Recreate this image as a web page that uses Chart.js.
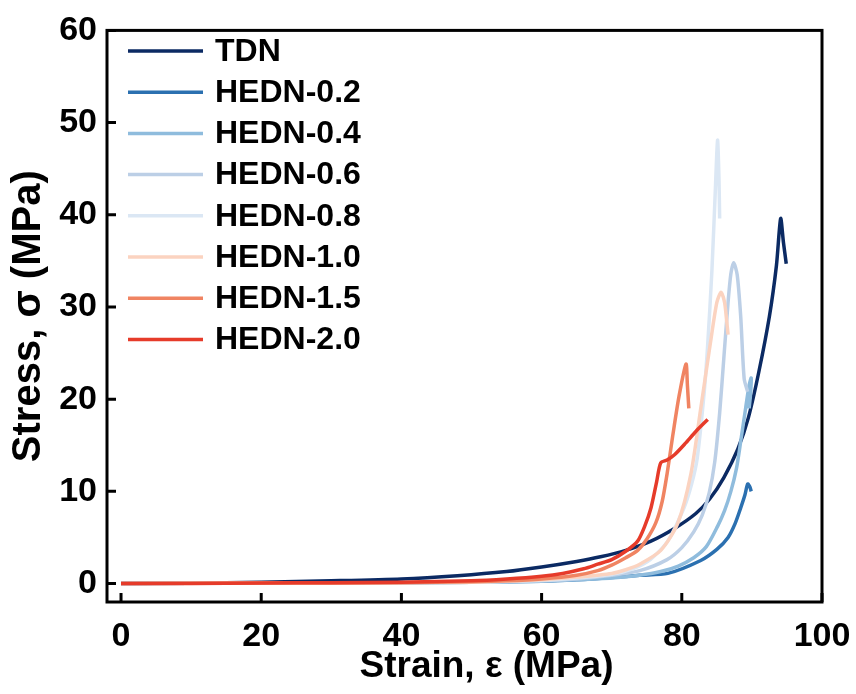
<!DOCTYPE html>
<html>
<head>
<meta charset="utf-8">
<script src="https://cdn.jsdelivr.net/npm/chart.js@4"></script>
<style>
  html, body { margin: 0; padding: 0; background: #fff; }
</style>
</head>
<body>
<canvas id="chart" width="856" height="694"></canvas>
<script>
// series names and colours
let names = ['TDN', 'HEDN-0.2', 'HEDN-0.4', 'HEDN-0.6', 'HEDN-0.8', 'HEDN-1.0', 'HEDN-1.5', 'HEDN-2.0'];
let colors = ['#0b2a63', '#2b70b0', '#8fbcdd', '#bccfe6', '#dbe7f4', '#fbd3c0', '#f08462', '#e63b2a'];

// values (strain, stress)
let tdnX = [0, 10, 20, 30, 40, 48, 55, 60, 65, 68.4, 72, 75.6, 79, 82, 84, 86, 88, 89.5, 91, 92.5, 93.5, 94.1, 94.5, 94.9];
let tdnY = [0, 0.05, 0.15, 0.3, 0.5, 0.85, 1.3, 1.8, 2.4, 2.9, 3.6, 4.6, 6.0, 7.6, 9.2, 11.5, 14.6, 18, 23, 29, 34.5, 39.6, 37, 34.7];

let h02X = [0, 20, 40, 50, 60, 65, 70, 74, 78, 82.7, 85, 86.6, 87.6, 88.4, 89, 89.4, 89.7, 89.9];
let h02Y = [0, 0.05, 0.1, 0.15, 0.25, 0.4, 0.65, 0.9, 1.1, 2.5, 3.7, 5, 6.5, 8.2, 9.6, 10.8, 10.5, 10];

let h04X = [0, 20, 40, 50, 60, 65, 70, 74, 77, 79.5, 81.7, 83.5, 85.1, 86.1, 87, 87.8, 88.4, 89.1, 89.6, 89.9, 89.8, 89.6];
let h04Y = [0, 0.05, 0.1, 0.15, 0.25, 0.4, 0.6, 0.9, 1.3, 1.9, 2.8, 4.0, 6.2, 7.9, 10, 12.5, 15.4, 19, 21.5, 22.3, 20.5, 19];

let h06X = [0, 20, 40, 50, 60, 65, 70, 74, 77.9, 80, 81.7, 82.9, 83.9, 84.7, 85.4, 86, 86.6, 87, 87.4, 87.9, 88.4, 88.9, 89.4];
let h06Y = [0, 0.05, 0.1, 0.15, 0.3, 0.5, 0.9, 1.4, 2.6, 3.9, 5.6, 7.4, 9.8, 13.2, 18.5, 24.5, 30.5, 33.6, 34.8, 33.5, 29, 22.2, 20.8];

let h08X = [0, 20, 40, 50, 60, 65, 70, 73, 75.5, 78, 80.3, 81.4, 82.2, 83.2, 83.7, 84.3, 84.8, 85.1, 85.3, 85.4];
let h08Y = [0, 0.05, 0.1, 0.15, 0.35, 0.6, 1.0, 1.6, 2.6, 4.6, 8.2, 10.8, 13.6, 20.8, 26, 34, 43, 48.1, 44, 39.6];

let h10X = [0, 20, 40, 50, 60, 65, 70, 72, 74, 77, 79.4, 81.3, 82.7, 84.1, 85, 85.6, 86.1, 86.4, 86.6];
let h10Y = [0, 0.05, 0.1, 0.15, 0.4, 0.7, 1.1, 1.5, 2.1, 3.6, 6.5, 11.9, 19, 26.2, 30.5, 31.6, 30.5, 28.5, 27];

let h15X = [0, 20, 40, 50, 55, 60, 65, 68, 70, 72, 73.7, 75, 76.3, 77.2, 77.9, 78.7, 79.6, 80.6, 80.8, 81];
let h15Y = [0, 0.05, 0.1, 0.2, 0.3, 0.5, 0.9, 1.4, 2.0, 2.8, 3.6, 4.8, 6.6, 8.9, 11.9, 16, 20.3, 23.8, 21.5, 19];

let h20X = [0, 10, 20, 30, 40, 50, 55, 60, 63, 66, 68, 70, 72, 73.7, 74.7, 75.6, 76.4, 77, 77.9, 79, 80.5, 82, 83.7];
let h20Y = [0, 0, 0.05, 0.1, 0.15, 0.3, 0.5, 0.8, 1.1, 1.6, 2.1, 2.6, 3.5, 4.6, 6.2, 8.2, 11, 13.1, 13.4, 14, 15.2, 16.5, 17.8];

let seriesX = [tdnX, h02X, h04X, h06X, h08X, h10X, h15X, h20X];
let seriesY = [tdnY, h02Y, h04Y, h06Y, h08Y, h10Y, h15Y, h20Y];

// axis ticks and titles
let xTicks = [0, 20, 40, 60, 80, 100];
let yTicks = [0, 10, 20, 30, 40, 50, 60];
let xTitle = 'Strain, ε (MPa)';
let yTitle = 'Stress, σ (MPa)';

let fontFamily = '"Liberation Sans", Arial, sans-serif';

let datasets = names.map((name, i) => ({
    label: name,
    data: seriesX[i].map((x, k) => ({ x: x, y: seriesY[i][k] })),
    borderColor: colors[i],
    backgroundColor: colors[i],
    borderWidth: 3.5,
    pointRadius: 0,
    showLine: true,
    tension: 0.25,
    order: names.length - i,
}));

// frame, inward ticks, x title (sits a bit right of centre in the original)
let frame = {
    id: 'frame',
    afterDraw(chart) {
        let ctx = chart.ctx;
        let a = chart.chartArea;
        let xs = chart.scales.x, ys = chart.scales.y;
        ctx.save();
        ctx.strokeStyle = '#000';
        ctx.lineWidth = 3;
        ctx.strokeRect(a.left, a.top, a.right - a.left, a.bottom - a.top);
        ctx.beginPath();
        xTicks.forEach(v => {
            let px = xs.getPixelForValue(v);
            ctx.moveTo(px, a.bottom);
            ctx.lineTo(px, a.bottom - 9);
        });
        yTicks.forEach(v => {
            let py = ys.getPixelForValue(v);
            ctx.moveTo(a.left, py);
            ctx.lineTo(a.left + 9, py);
        });
        ctx.stroke();

        ctx.fillStyle = '#000';
        ctx.font = 'bold 37px ' + fontFamily;
        ctx.textAlign = 'center';
        ctx.textBaseline = 'middle';
        ctx.fillText(xTitle, (a.left + a.right) / 2 + 22, 667);
        ctx.restore();
    }
};

// legend inside the plot, top left
let innerLegend = {
    id: 'innerLegend',
    afterDraw(chart) {
        let ctx = chart.ctx;
        ctx.save();
        ctx.font = 'bold 32px ' + fontFamily;
        ctx.textBaseline = 'middle';
        ctx.fillStyle = '#000';
        chart.data.datasets.forEach((ds, i) => {
            let y = 51 + i * 41.2;
            ctx.strokeStyle = ds.borderColor;
            ctx.lineWidth = 3.5;
            ctx.beginPath();
            ctx.moveTo(128, y);
            ctx.lineTo(203, y);
            ctx.stroke();
            ctx.fillText(ds.label, 215, y + 1);
        });
        ctx.restore();
    }
};

new Chart(document.getElementById('chart'), {
    type: 'scatter',
    data: { datasets: datasets },
    options: {
        responsive: false,
        animation: false,
        devicePixelRatio: 1,
        layout: { padding: { top: 27, right: 34, left: 0, bottom: 0 } },
        plugins: { legend: { display: false }, tooltip: { enabled: false } },
        scales: {
            x: {
                type: 'linear',
                min: -2,
                max: 100,
                grid: { display: false, drawTicks: false },
                border: { display: false },
                afterBuildTicks: s => { s.ticks = xTicks.map(v => ({ value: v })); },
                afterFit: s => { s.height = 92; s.paddingRight = 0; },
                ticks: {
                    color: '#000',
                    padding: 14,
                    maxRotation: 0,
                    autoSkip: false,
                    font: { family: fontFamily, size: 34, weight: 'bold' },
                },
            },
            y: {
                type: 'linear',
                min: -2,
                max: 60,
                grid: { display: false, drawTicks: false },
                border: { display: false },
                afterBuildTicks: s => { s.ticks = yTicks.map(v => ({ value: v })); },
                afterFit: s => { s.width = 107; },
                ticks: {
                    color: '#000',
                    padding: 10,
                    autoSkip: false,
                    font: { family: fontFamily, size: 34, weight: 'bold' },
                },
                title: {
                    display: true,
                    text: yTitle,
                    color: '#000',
                    font: { family: fontFamily, size: 40, weight: 'bold' },
                    padding: { top: 5, bottom: 0 },
                },
            },
        },
    },
    plugins: [frame, innerLegend],
});
</script>
</body>
</html>
